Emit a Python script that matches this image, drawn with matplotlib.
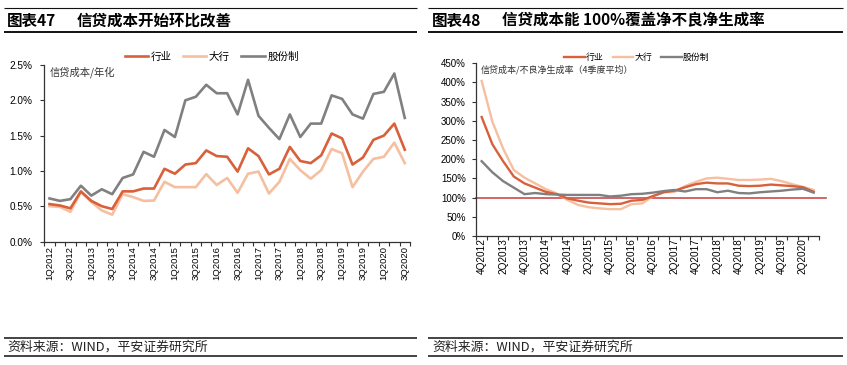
import numpy as np
import matplotlib
matplotlib.use("Agg")
import matplotlib.pyplot as plt
from matplotlib.lines import Line2D

plt.rcParams['font.family'] = ['Liberation Sans', 'Noto Sans CJK SC', 'DejaVu Sans']

# ---------------- data: left chart ----------------
quarters_left = [f"{q}Q{y}" for y in range(2012, 2021) for q in range(1, 5)][:35]
industry_cost = [0.53, 0.51, 0.47, 0.71, 0.575, 0.50, 0.46, 0.71, 0.71, 0.75,
                 0.75, 1.03, 0.96, 1.09, 1.11, 1.29, 1.21, 1.20, 0.99, 1.32,
                 1.21, 0.95, 1.03, 1.34, 1.14, 1.11, 1.22, 1.53, 1.46, 1.09,
                 1.19, 1.44, 1.50, 1.67, 1.30]
big_cost = [0.50, 0.49, 0.42, 0.70, 0.56, 0.44, 0.38, 0.67, 0.63, 0.575,
            0.58, 0.845, 0.77, 0.77, 0.77, 0.955, 0.80, 0.90, 0.69, 0.96,
            0.99, 0.68, 0.845, 1.17, 1.01, 0.89, 1.01, 1.31, 1.25, 0.77,
            0.99, 1.17, 1.20, 1.40, 1.11]
jsb_cost = [0.61, 0.575, 0.60, 0.79, 0.65, 0.74, 0.67, 0.90, 0.95, 1.27,
            1.20, 1.58, 1.48, 2.00, 2.05, 2.22, 2.10, 2.10, 1.80, 2.29,
            1.78, 1.61, 1.45, 1.80, 1.48, 1.67, 1.67, 2.07, 2.02, 1.80,
            1.74, 2.09, 2.12, 2.38, 1.75]
left_yticks = [0.0, 0.5, 1.0, 1.5, 2.0, 2.5]

# ---------------- data: right chart ----------------
quarters_right = [f"{q}Q{y}" for y in range(2012, 2021) for q in range(1, 5)][3:35]
industry_cov = [310, 239, 195, 155, 137, 126, 115, 109, 98, 92,
                87, 85, 83, 84, 92, 94, 104, 114, 118, 127,
                135, 139, 137, 137, 131, 130, 131, 134, 132, 130,
                127, 115]
big_cov = [404, 298, 228, 172, 152, 137, 122, 111, 94, 81,
           75, 72, 70, 70, 83, 85, 104, 114, 115, 130,
           141, 150, 152, 149, 146, 146, 147, 149, 143, 135,
           128, 120]
jsb_cov = [195, 166, 143, 126, 109, 112, 109, 108, 107, 107,
           107, 107, 103, 105, 109, 110, 113, 117, 120, 116,
           122, 122, 114, 118, 112, 111, 114, 116, 118, 121,
           123, 113]
right_yticks = [0, 50, 100, 150, 200, 250, 300, 350, 400, 450]
threshold = 100

series_names = ["行业", "大行", "股份制"]
c_ind = "#D8603A"
c_big = "#F5BFA0"
c_jsb = "#808080"
c_red = "#CC4C4C"

W, H = 847, 365
fig = plt.figure(figsize=(W / 100, H / 100), dpi=100)

def fx(x):
    return x / W

def fy(y):
    return 1 - y / H

def hline(x0, x1, y, lw, color="#111111"):
    fig.add_artist(Line2D([fx(x0), fx(x1)], [fy(y), fy(y)], transform=fig.transFigure,
                          color=color, lw=lw, solid_capstyle="butt"))

cjk = ['Noto Sans CJK SC', 'DejaVu Sans']
spine_c = "#333333"

# ---------- decorations ----------
for (x0, x1) in [(4, 417), (428, 843)]:
    hline(x0, x1, 8, 0.8)
    hline(x0, x1, 31.5, 1.4)
    hline(x0, x1, 337.5, 1.1)
    hline(x0, x1, 356, 1.1)

fig.text(fx(7), fy(20.5), "图表47", family=cjk, weight="bold", fontsize=11.2, va="center", ha="left")
fig.text(fx(77), fy(20.5), "信贷成本开始环比改善", family=cjk, weight="bold", fontsize=11.2, va="center", ha="left")
fig.text(fx(432), fy(20.5), "图表48", family=cjk, weight="bold", fontsize=11.2, va="center", ha="left")
fig.text(fx(502), fy(20.5), "信贷成本能 100%覆盖净不良净生成率", family=cjk, weight="bold", fontsize=11.2, va="center", ha="left")
fig.text(fx(7), fy(347), "资料来源：WIND，平安证券研究所", family=cjk, fontsize=9.3, va="center", ha="left", color="#222222")
fig.text(fx(432), fy(347), "资料来源：WIND，平安证券研究所", family=cjk, fontsize=9.3, va="center", ha="left", color="#222222")

def style_axes(ax, n, labels, lab_size, lab_pad, ypad):
    for s in ["top", "right"]:
        ax.spines[s].set_visible(False)
    for s in ["left", "bottom"]:
        ax.spines[s].set_color(spine_c)
        ax.spines[s].set_linewidth(0.9)
    ax.set_xlim(-0.5, n - 0.5)
    ax.set_xticks(np.arange(-0.5, n, 1.0))
    ax.set_xticklabels([])
    idx = list(range(0, n, 2))
    ax.set_xticks(idx, minor=True)
    ax.set_xticklabels([labels[i] for i in idx], minor=True, rotation=90, fontsize=lab_size)
    ax.tick_params(axis="x", which="major", length=3, width=0.8, color=spine_c, direction="out")
    ax.tick_params(axis="x", which="minor", length=0, pad=lab_pad)
    ax.tick_params(axis="y", length=3, width=0.8, color=spine_c, direction="out", pad=ypad)

# ---------- left chart ----------
axL = fig.add_axes([fx(44.3), fy(241.5), fx(410) - fx(44.3), fy(65) - fy(241.5)])
x_l = np.arange(len(quarters_left))
h2, = axL.plot(x_l, big_cost, color=c_big, lw=1.9, solid_joinstyle="round")
h1, = axL.plot(x_l, industry_cost, color=c_ind, lw=1.9, solid_joinstyle="round")
h3, = axL.plot(x_l, jsb_cost, color=c_jsb, lw=1.9, solid_joinstyle="round")
axL.set_ylim(0, 2.5)
axL.set_yticks(left_yticks)
axL.set_yticklabels([f"{v:.1f}%" for v in left_yticks], fontsize=7.2)
style_axes(axL, len(quarters_left), quarters_left, 6.8, 3.5, 5.5)
axL.text(fx(50), fy(72.5), "信贷成本/年化", family=cjk, fontsize=7.4, color="#333333",
         transform=fig.transFigure, va="center", ha="left")
fig.legend([h1, h2, h3], series_names, loc="center", bbox_to_anchor=(fx(211.7), fy(56.7)),
           ncol=3, frameon=False, prop={"family": cjk, "size": 7.6},
           handlelength=2.2, handletextpad=0.25, columnspacing=1.1, borderpad=0)

# ---------- right chart ----------
axR = fig.add_axes([fx(476.3), fy(236), fx(819) - fx(476.3), fy(63.3) - fy(236)])
x_r = np.arange(len(quarters_right))
axR.plot([-0.5, len(quarters_right) + 0.2], [threshold, threshold], color=c_red, lw=1.2,
         clip_on=False, zorder=1.5)
g2, = axR.plot(x_r, big_cov, color=c_big, lw=1.7, zorder=2)
g1, = axR.plot(x_r, industry_cov, color=c_ind, lw=1.7, zorder=2.1)
g3, = axR.plot(x_r, jsb_cov, color=c_jsb, lw=1.7, zorder=2.2)
axR.set_ylim(0, 450)
axR.set_yticks(right_yticks)
axR.set_yticklabels([f"{v}%" for v in right_yticks], fontsize=7)
style_axes(axR, len(quarters_right), quarters_right, 7.2, 1.5, 4.5)
axR.text(fx(480.5), fy(70), "信贷成本/不良净生成率（4季度平均）", family=cjk, fontsize=6.5,
         color="#333333", transform=fig.transFigure, va="center", ha="left")
fig.legend([g1, g2, g3], series_names, loc="center", bbox_to_anchor=(fx(637), fy(57.3)),
           ncol=3, frameon=False, prop={"family": cjk, "size": 6.4},
           handlelength=2.3, handletextpad=0.15, columnspacing=1.0, borderpad=0)

fig.savefig("out.png", dpi=100, facecolor="white")
